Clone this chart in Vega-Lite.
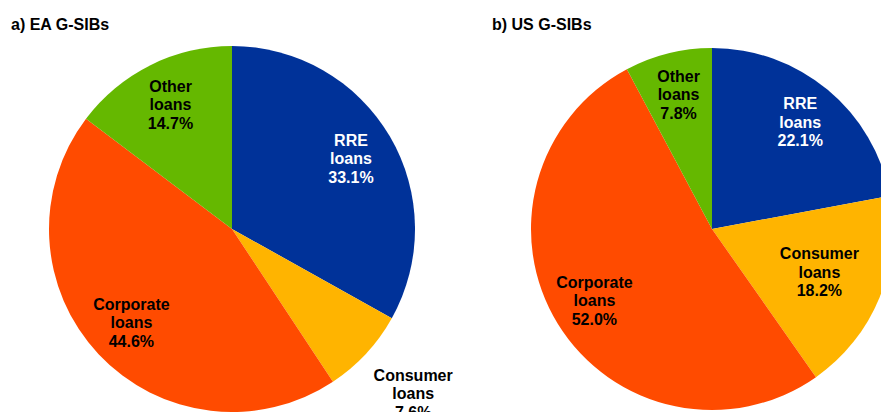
{
  "$schema": "https://vega.github.io/schema/vega-lite/v6.json",
  "background": "white",
  "padding": {"left": 11, "top": 17, "right": 0, "bottom": 0},
  "bounds": "flush",
  "spacing": 142,
  "config": {
    "view": {"stroke": null},
    "title": {"font": "Liberation Sans", "fontSize": 16, "fontWeight": "bold", "anchor": "start", "frame": "group", "color": "black", "offset": 13},
    "text": {"font": "Liberation Sans", "fontSize": 16, "fontWeight": "bold", "lineHeight": 18.5, "lineBreak": "\n", "dy": -18.5}
  },
  "data": {
    "values": [
      {"panel": "EA", "cat": "RRE", "idx": 1, "value": 33.1, "label": "RRE\nloans\n33.1%"},
      {"panel": "EA", "cat": "Consumer", "idx": 2, "value": 7.6, "label": "Consumer\nloans\n7.6%"},
      {"panel": "EA", "cat": "Corporate", "idx": 3, "value": 44.6, "label": "Corporate\nloans\n44.6%"},
      {"panel": "EA", "cat": "Other", "idx": 4, "value": 14.7, "label": "Other\nloans\n14.7%"},
      {"panel": "US", "cat": "RRE", "idx": 1, "value": 22.1, "label": "RRE\nloans\n22.1%"},
      {"panel": "US", "cat": "Consumer", "idx": 2, "value": 18.2, "label": "Consumer\nloans\n18.2%"},
      {"panel": "US", "cat": "Corporate", "idx": 3, "value": 52.0, "label": "Corporate\nloans\n52.0%"},
      {"panel": "US", "cat": "Other", "idx": 4, "value": 7.8, "label": "Other\nloans\n7.8%"}
    ]
  },
  "hconcat": [
    {
      "title": {"text": "a) EA G-SIBs", "dx": -52},
      "width": 338,
      "height": 366,
      "transform": [{"filter": "datum.panel === 'EA'"}],
      "encoding": {
        "theta": {"field": "value", "type": "quantitative", "stack": true},
        "order": {"field": "idx", "type": "quantitative"}
      },
      "layer": [
        {
          "mark": {"type": "arc", "outerRadius": 183},
          "encoding": {
            "color": {"field": "cat", "type": "nominal", "legend": null,
              "scale": {"domain": ["RRE", "Consumer", "Corporate", "Other"], "range": ["#003299", "#FFB400", "#FF4B00", "#65B800"]}}
          }
        },
        {
          "mark": {"type": "text", "radius": 138},
          "encoding": {
            "text": {"condition": {"test": "datum.cat === 'Consumer'", "value": ""}, "field": "label"},
            "color": {"condition": {"test": "datum.cat === 'RRE'", "value": "white"}, "value": "black"}
          }
        },
        {
          "transform": [{"filter": "datum.idx <= 2"}],
          "mark": {"type": "text", "radius": 243, "dx": 3},
          "encoding": {
            "text": {"condition": {"test": "datum.cat === 'Consumer'", "field": "label"}, "value": ""},
            "color": {"value": "black"}
          }
        }
      ]
    },
    {
      "title": {"text": "b) US G-SIBs", "dx": -51},
      "width": 338,
      "height": 366,
      "transform": [{"filter": "datum.panel === 'US'"}],
      "encoding": {
        "theta": {"field": "value", "type": "quantitative", "stack": true},
        "order": {"field": "idx", "type": "quantitative"}
      },
      "layer": [
        {
          "mark": {"type": "arc", "outerRadius": 181},
          "encoding": {
            "color": {"field": "cat", "type": "nominal", "legend": null,
              "scale": {"domain": ["RRE", "Consumer", "Corporate", "Other"], "range": ["#003299", "#FFB400", "#FF4B00", "#65B800"]}}
          }
        },
        {
          "mark": {"type": "text", "radius": 138},
          "encoding": {
            "text": {"condition": {"test": "datum.cat === 'Consumer'", "value": ""}, "field": "label"},
            "color": {"condition": {"test": "datum.cat === 'RRE'", "value": "white"}, "value": "black"}
          }
        },
        {
          "mark": {"type": "text", "radius": 116},
          "encoding": {
            "text": {"condition": {"test": "datum.cat === 'Consumer'", "field": "label"}, "value": ""},
            "color": {"value": "black"}
          }
        }
      ]
    }
  ]
}
